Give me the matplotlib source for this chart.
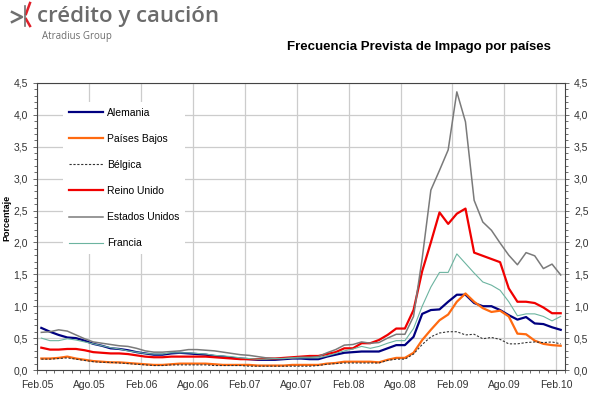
import numpy as np
import matplotlib.pyplot as plt
from matplotlib.ticker import MultipleLocator, FuncFormatter
from matplotlib.lines import Line2D

plt.rcParams['font.family'] = ['Liberation Sans', 'DejaVu Sans']

# monthly values, Feb.05 .. Feb.10 (61 months)
alemania = [0.66, 0.60, 0.55, 0.51, 0.50, 0.46, 0.41, 0.38, 0.34, 0.33,
            0.31, 0.28, 0.26, 0.24, 0.24, 0.26, 0.27, 0.26, 0.25, 0.24,
            0.22, 0.21, 0.19, 0.18, 0.17, 0.16, 0.16, 0.16, 0.17, 0.18,
            0.18, 0.17, 0.17, 0.21, 0.24, 0.27, 0.28, 0.29, 0.29, 0.29,
            0.34, 0.39, 0.39, 0.52, 0.88, 0.94, 0.95, 1.07, 1.18, 1.18,
            1.05, 1.00, 1.00, 0.94, 0.86, 0.79, 0.83, 0.73, 0.72, 0.67, 0.63]
paises_bajos = [0.18, 0.18, 0.19, 0.21, 0.18, 0.16, 0.14, 0.13, 0.12, 0.12,
                0.11, 0.10, 0.09, 0.08, 0.08, 0.09, 0.10, 0.10, 0.10, 0.10,
                0.09, 0.08, 0.08, 0.08, 0.08, 0.07, 0.07, 0.07, 0.07, 0.08,
                0.08, 0.08, 0.08, 0.10, 0.11, 0.13, 0.13, 0.13, 0.13, 0.12,
                0.16, 0.19, 0.19, 0.27, 0.47, 0.63, 0.78, 0.87, 1.07, 1.20,
                1.07, 0.97, 0.91, 0.93, 0.84, 0.57, 0.56, 0.46, 0.41, 0.39, 0.38]
belgica = [0.17, 0.17, 0.18, 0.19, 0.17, 0.15, 0.13, 0.12, 0.12, 0.11,
           0.10, 0.09, 0.08, 0.07, 0.07, 0.08, 0.08, 0.08, 0.08, 0.08,
           0.07, 0.07, 0.07, 0.07, 0.06, 0.06, 0.06, 0.06, 0.06, 0.06,
           0.06, 0.06, 0.07, 0.09, 0.10, 0.11, 0.11, 0.11, 0.11, 0.11,
           0.15, 0.17, 0.17, 0.25, 0.40, 0.52, 0.58, 0.60, 0.60, 0.55,
           0.56, 0.49, 0.51, 0.48, 0.41, 0.41, 0.43, 0.44, 0.43, 0.44, 0.41]
reino_unido = [0.35, 0.32, 0.32, 0.33, 0.33, 0.31, 0.28, 0.27, 0.26, 0.26,
               0.25, 0.23, 0.21, 0.20, 0.20, 0.21, 0.21, 0.21, 0.21, 0.21,
               0.20, 0.19, 0.18, 0.17, 0.17, 0.17, 0.18, 0.18, 0.19, 0.20,
               0.21, 0.22, 0.22, 0.25, 0.28, 0.34, 0.34, 0.42, 0.42, 0.47,
               0.55, 0.65, 0.65, 0.94, 1.55, 2.00, 2.47, 2.29, 2.45, 2.53,
               1.84, 1.79, 1.74, 1.69, 1.28, 1.07, 1.07, 1.05, 0.98, 0.89, 0.89]
estados_unidos = [0.59, 0.60, 0.63, 0.61, 0.55, 0.49, 0.44, 0.42, 0.40, 0.38,
                  0.37, 0.34, 0.30, 0.28, 0.28, 0.29, 0.30, 0.32, 0.32, 0.31,
                  0.30, 0.28, 0.26, 0.24, 0.23, 0.21, 0.19, 0.18, 0.18, 0.19,
                  0.20, 0.20, 0.21, 0.27, 0.32, 0.39, 0.40, 0.44, 0.42, 0.43,
                  0.50, 0.56, 0.56, 0.84, 1.75, 2.82, 3.13, 3.45, 4.36, 3.89,
                  2.66, 2.32, 2.19, 1.99, 1.80, 1.65, 1.84, 1.79, 1.59, 1.66, 1.49]
francia = [0.50, 0.46, 0.46, 0.49, 0.47, 0.44, 0.41, 0.38, 0.35, 0.33,
           0.30, 0.28, 0.26, 0.25, 0.25, 0.27, 0.27, 0.27, 0.26, 0.25,
           0.23, 0.22, 0.21, 0.19, 0.18, 0.17, 0.17, 0.18, 0.18, 0.19,
           0.19, 0.19, 0.19, 0.22, 0.26, 0.30, 0.33, 0.37, 0.34, 0.37,
           0.42, 0.46, 0.46, 0.65, 1.00, 1.30, 1.53, 1.53, 1.82, 1.67,
           1.52, 1.38, 1.33, 1.25, 1.07, 0.85, 0.88, 0.88, 0.84, 0.77, 0.84]

tick_labels = ['Feb.05', 'Ago.05', 'Feb.06', 'Ago.06', 'Feb.07', 'Ago.07',
               'Feb.08', 'Ago.08', 'Feb.09', 'Ago.09', 'Feb.10']

n = len(alemania)
x = np.arange(n) + 0.5   # points sit in the middle of each month

fig = plt.figure(figsize=(5.89, 3.93), dpi=100)
ax = fig.add_axes([0.0628, 0.0585, 0.8965, 0.7305])

ax.plot(x, alemania, color='#000080', lw=1.6, label='Alemania')
ax.plot(x, paises_bajos, color='#ff6a10', lw=1.6, label='Países Bajos')
ax.plot(x, belgica, color='#333333', lw=0.8, ls=(0, (2, 1.5)), label='Bélgica')
ax.plot(x, reino_unido, color='#f00000', lw=1.6, label='Reino Unido')
ax.plot(x, estados_unidos, color='#7a7a7a', lw=1.1, label='Estados Unidos')
ax.plot(x, francia, color='#6cb4a0', lw=0.8, label='Francia')

ax.set_xlim(0, n)
ax.set_ylim(0, 4.5)
ax.set_xticks(np.arange(0, n, 6))
ax.set_xticklabels(tick_labels)
ax.xaxis.set_minor_locator(MultipleLocator(1))
ax.yaxis.set_major_locator(MultipleLocator(0.5))
ax.yaxis.set_minor_locator(MultipleLocator(0.1))
ax.yaxis.set_major_formatter(FuncFormatter(lambda v, p: f'{v:.1f}'.replace('.', ',')))

ax.tick_params(which='both', direction='out', colors='#555555', labelcolor='#333333',
               labelsize=7.5, right=True, labelright=True, width=0.6)
ax.tick_params(which='major', length=3)
ax.tick_params(which='minor', length=2)
ax.tick_params(axis='x', pad=4)

ax.grid(True, which='major', color='#cccccc', lw=0.9)
ax.set_axisbelow(True)
for s in ax.spines.values():
    s.set_color('#444444')
    s.set_linewidth(0.8)

ax.set_ylabel('Porcentaje', fontsize=6.5, fontweight='bold', labelpad=4)
ax.yaxis.set_label_coords(-0.048, 0.53)

leg = ax.legend(loc='upper left', bbox_to_anchor=(0.04, 0.95), fontsize=7.5,
                labelspacing=1.55, handlelength=3.3, handletextpad=0.4,
                frameon=True, fancybox=False, borderpad=0.5)
leg.get_frame().set_facecolor('white')
leg.get_frame().set_edgecolor('none')
leg.get_frame().set_alpha(1)

fig.text(287 / 589, 1 - 47 / 393, 'Frecuencia Prevista de Impago por países',
         fontsize=9.5, fontweight='bold', ha='left', va='center')

# logo
fig.text(37 / 589, 1 - 22 / 393, 'crédito y caución', fontsize=16, color='#6b6b6b',
         family=['Open Sans', 'DejaVu Sans'], fontweight='semibold',
         ha='left', va='baseline')
fig.text(42 / 589, 1 - 39 / 393, 'Atradius Group', fontsize=7, color='#6e6e6e',
         family=['Open Sans', 'DejaVu Sans'], ha='left', va='baseline')
W, H = 589, 393
fig.add_artist(Line2D([12 / W, 22 / W, 12 / W], [1 - 12 / H, 1 - 17 / H, 1 - 22 / H],
                      color='#707070', lw=1.8, transform=fig.transFigure))
fig.add_artist(Line2D([30 / W, 26 / W], [1 - 3 / H, 1 - 14 / H],
                      color='#e0202a', lw=1.8, transform=fig.transFigure))
fig.add_artist(Line2D([26 / W, 30 / W], [1 - 19 / H, 1 - 26 / H],
                      color='#e0202a', lw=1.8, transform=fig.transFigure))
fig.add_artist(Line2D([25 / W, 25 / W], [1 - 6 / H, 1 - 26 / H],
                      color='#707070', lw=1.2, transform=fig.transFigure))

fig.savefig('out.png', dpi=100)
